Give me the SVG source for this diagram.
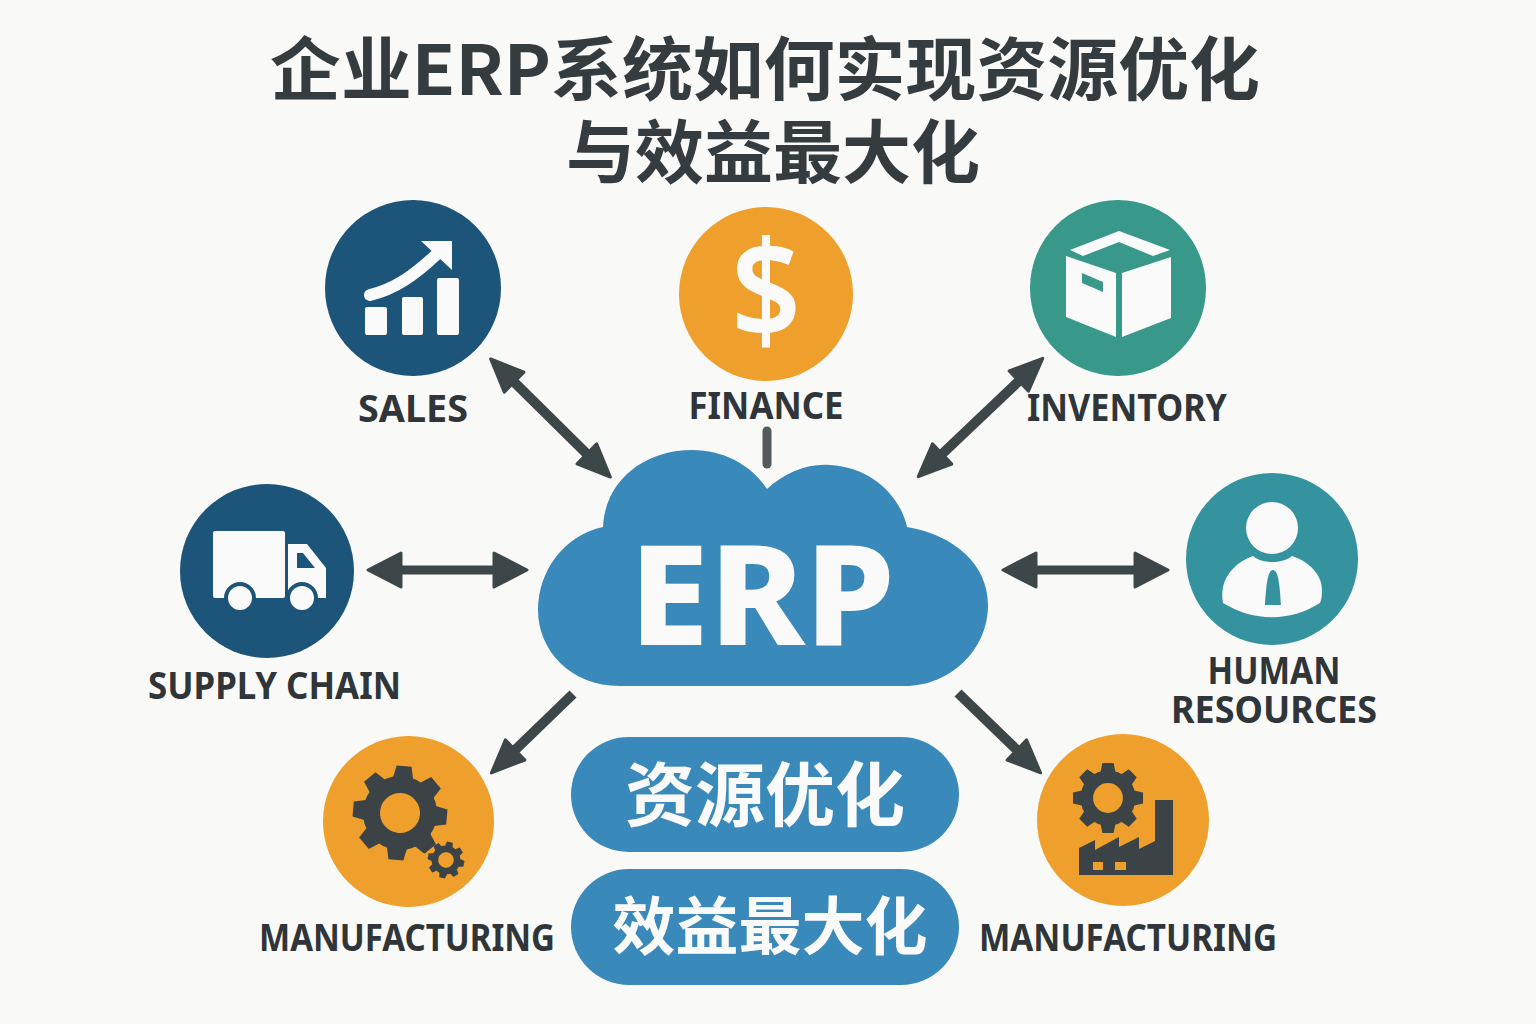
<svg xmlns="http://www.w3.org/2000/svg" xmlns:xlink="http://www.w3.org/1999/xlink" width="1536" height="1024" viewBox="0 0 1536 1024">
<style>
.title{font-family:"Noto Sans CJK SC","Noto Sans",sans-serif;font-weight:700;font-size:69px;fill:#343c3f;text-anchor:middle}
.lbl{font-family:"Noto Sans","Liberation Sans",sans-serif;font-weight:700;font-size:37px;fill:#2f3538;text-anchor:middle}
.pill{font-family:"Noto Sans CJK SC","Noto Sans",sans-serif;font-weight:700;fill:#fafafa;text-anchor:middle}
.conn{stroke:#3d4648;stroke-width:9;fill:none}
.diag{stroke:#3d4648;stroke-width:10;fill:none}
.blue{fill:#1d5479}.orange{fill:#ef9f2b}.green{fill:#38998a}.teal{fill:#35939f}.sky{fill:#3a89bb}
.w{fill:#fafafa}.d{fill:#3b4347}
</style>
<defs>
<marker id="head" markerUnits="userSpaceOnUse" markerWidth="50" markerHeight="50" viewBox="-6 -25 50 50" refX="3" refY="0" orient="auto-start-reverse">
<path d="M0,-17 L33,0 L0,17 Z" fill="#3d4648" stroke="#3d4648" stroke-width="3" stroke-linejoin="round"/>
</marker>
<marker id="headd" markerUnits="userSpaceOnUse" markerWidth="50" markerHeight="50" viewBox="-6 -25 50 50" refX="3" refY="0" orient="auto-start-reverse">
<path d="M0,-14 L33,0 L0,14 Z" fill="#3d4648" stroke="#3d4648" stroke-width="3" stroke-linejoin="round"/>
</marker>
<g id="gear">
<circle cx="0" cy="0" r="28.500" fill="none" stroke="#3b4347" stroke-width="17"/>
<polygon id="tooth" class="d" points="-10,-35 -7.500,-47 7.500,-47 10,-35"/>
<use xlink:href="#tooth" href="#tooth" transform="rotate(45)"/>
<use xlink:href="#tooth" href="#tooth" transform="rotate(90)"/>
<use xlink:href="#tooth" href="#tooth" transform="rotate(135)"/>
<use xlink:href="#tooth" href="#tooth" transform="rotate(180)"/>
<use xlink:href="#tooth" href="#tooth" transform="rotate(225)"/>
<use xlink:href="#tooth" href="#tooth" transform="rotate(270)"/>
<use xlink:href="#tooth" href="#tooth" transform="rotate(315)"/>
</g>
</defs>
<rect width="1536" height="1024" fill="#f9f9f8"/>
<g id="title">
<text class="title" x="765" y="95" textLength="990" lengthAdjust="spacingAndGlyphs">企业ERP系统如何实现资源优化</text>
<text class="title" x="773" y="178">与效益最大化</text>
</g>
<g id="connectors">
<line class="diag" x1="512" y1="380" x2="589" y2="456" marker-start="url(#headd)" marker-end="url(#headd)"/>
<line x1="767" y1="431" x2="767" y2="464" stroke="#555b5d" stroke-width="9" stroke-linecap="round"/>
<line class="diag" x1="1021" y1="379" x2="940" y2="456" marker-start="url(#headd)" marker-end="url(#headd)"/>
<line class="conn" x1="398" y1="570" x2="497" y2="570" marker-start="url(#head)" marker-end="url(#head)"/>
<line class="conn" x1="1033" y1="570" x2="1138" y2="570" marker-start="url(#head)" marker-end="url(#head)"/>
<line class="diag" x1="573" y1="694" x2="513" y2="752" marker-end="url(#headd)"/>
<line class="diag" x1="958" y1="693" x2="1019" y2="752" marker-end="url(#headd)"/>
</g>
<g id="node-erp">
<path class="sky" d="M620 686C570 686 538 650 538 610C538 570 565 535 603 527C605 480 645 450 692 450C725 450 752 466 767 489C785 472 810 463 830 465C870 467 900 495 907 527C955 535 988 565 988 605C988 650 950 686 905 686Z"/>
<text x="762" y="645" font-family="'Noto Sans',sans-serif" font-weight="800" font-size="140" fill="#fafafa" text-anchor="middle" textLength="266" lengthAdjust="spacingAndGlyphs">ERP</text>
</g>
<g id="node-sales">
<circle class="blue" cx="413" cy="288" r="88"/>
<rect class="w" x="365" y="307" width="22" height="28" rx="2"/>
<rect class="w" x="402" y="297" width="21" height="38" rx="2"/>
<rect class="w" x="437" y="278" width="22" height="57" rx="2"/>
<path d="M370 295C395 289 415 275 438 253" fill="none" stroke="#fafafa" stroke-width="12" stroke-linecap="round"/>
<path class="w" d="M421 241L452 241L452 270Z"/>
<text class="lbl" x="413" y="422" textLength="110" lengthAdjust="spacingAndGlyphs">SALES</text>
</g>
<g id="node-finance">
<circle class="orange" cx="766" cy="294" r="87"/>
<text x="766" y="339" font-family="'Noto Sans',sans-serif" font-weight="600" font-size="138" fill="#fafafa" text-anchor="middle" textLength="70" lengthAdjust="spacingAndGlyphs">$</text>
<text class="lbl" x="766" y="419" textLength="155" lengthAdjust="spacingAndGlyphs">FINANCE</text>
</g>
<g id="node-inventory">
<circle class="green" cx="1118" cy="288" r="88"/>
<polygon class="w" points="1070,250 1119,231 1170,250 1153,256 1119,242 1083,256"/>
<polygon class="w" points="1066,256 1116,273 1116,337 1066,317"/>
<polygon class="w" points="1122,273 1171,257 1171,318 1122,337"/>
<polygon class="green" points="1082,273 1103,282 1103,292 1082,283"/>
<text class="lbl" x="1127" y="421" textLength="200" lengthAdjust="spacingAndGlyphs">INVENTORY</text>
</g>
<g id="node-supply-chain">
<circle class="blue" cx="267" cy="571" r="87"/>
<rect class="w" x="213" y="531" width="72" height="67" rx="2"/>
<path class="w" d="M288 544L307 544L326 568L326 598L288 598Z"/>
<path class="blue" d="M297 553L303 553L315 568L297 568Z"/>
<circle class="w" cx="240" cy="598" r="14" stroke="#1d5479" stroke-width="4"/>
<circle class="w" cx="302" cy="598" r="14" stroke="#1d5479" stroke-width="4"/>
<text class="lbl" x="274.500" y="699" textLength="253" lengthAdjust="spacingAndGlyphs">SUPPLY CHAIN</text>
</g>
<g id="node-human-resources">
<circle class="teal" cx="1272" cy="559" r="86"/>
<circle class="w" cx="1272" cy="528" r="26"/>
<path class="w" d="M1253 556C1262 564 1282 564 1292 556C1310 562 1322 575 1322 590C1322 597 1321 601 1320 603C1290 622 1254 622 1223 603C1222 598 1222 592 1223 587C1226 573 1238 561 1253 556Z"/>
<path class="teal" d="M1265 605C1266 590 1267 570 1273 570C1279 570 1280 590 1281 605Z"/>
<text class="lbl" x="1274" y="684" textLength="133" lengthAdjust="spacingAndGlyphs">HUMAN</text>
<text class="lbl" x="1274" y="723" textLength="206" lengthAdjust="spacingAndGlyphs">RESOURCES</text>
</g>
<g id="node-manufacturing-left">
<circle class="orange" cx="408.500" cy="821.500" r="85.500"/>
<use xlink:href="#gear" href="#gear" transform="translate(400 813) rotate(5)"/>
<use xlink:href="#gear" href="#gear" transform="translate(446 860) rotate(12) scale(.39)"/>
<text class="lbl" x="407" y="951" textLength="296" lengthAdjust="spacingAndGlyphs">MANUFACTURING</text>
</g>
<g id="node-manufacturing-right">
<circle class="orange" cx="1123" cy="820" r="86"/>
<use xlink:href="#gear" href="#gear" transform="translate(1108 798) scale(.745)"/>
<polygon class="d" points="1079,848 1095,840 1095,850 1119,837 1119,847 1139,837 1139,849 1155,841 1155,800 1173,800 1173,875 1079,875"/>
<rect class="orange" x="1093" y="862" width="10" height="8"/>
<rect class="orange" x="1115" y="862" width="11" height="8"/>
<text class="lbl" x="1128" y="951" textLength="298" lengthAdjust="spacingAndGlyphs">MANUFACTURING</text>
</g>
<g id="node-resource-optimization">
<rect class="sky" x="571" y="737" width="388" height="115" rx="57.500"/>
<text class="pill" x="765" y="821" font-size="70">资源优化</text>
</g>
<g id="node-benefit-maximization">
<rect class="sky" x="571" y="869" width="388" height="116" rx="58"/>
<text class="pill" x="770" y="949" font-size="63">效益最大化</text>
</g>
</svg>
